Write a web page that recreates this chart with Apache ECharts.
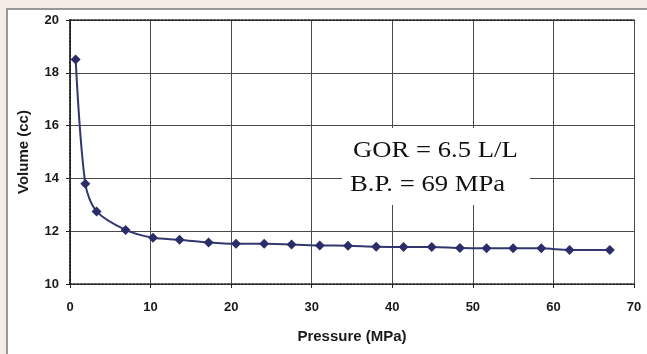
<!DOCTYPE html>
<html>
<head>
    <meta charset="utf-8">
    <title>Volume vs Pressure</title>
    <script src="https://cdn.jsdelivr.net/npm/echarts@6/dist/echarts.min.js"></script>
    <style>
        html, body { margin: 0; padding: 0; background: #f4ede7; }
    </style>
</head>
<body>
    <div id="main" style="width: 647px;height:354px;"></div>
    <script type="text/javascript">
        // pressure (MPa) and volume (cc)
        var pressure = [0.7, 1.9, 3.3, 6.9, 10.3, 13.6, 17.2, 20.6, 24.1, 27.5, 31.0, 34.5, 38.0, 41.4, 44.9, 48.4, 51.7, 55.0, 58.5, 62.0, 67.0];
        var volume = [18.5, 13.8, 12.75, 12.05, 11.75, 11.68, 11.57, 11.52, 11.52, 11.5, 11.46, 11.45, 11.41, 11.4, 11.4, 11.36, 11.35, 11.35, 11.35, 11.29, 11.29];
        var noteLines = ['GOR = 6.5 L/L', 'B.P. = 69 MPa'];

        var points = [];
        for (var i = 0; i < pressure.length; i++) {
            points.push([pressure[i], volume[i]]);
        }

        var dotted = { show: true, lineStyle: { color: '#222', width: 1.5, type: [2, 1.5] } };
        var gridLine = { show: true, lineStyle: { color: '#4a4a4a', width: 1, type: 'solid' } };
        var tickLabel = { color: '#1a1a1a', fontSize: 13, fontWeight: 'bold', fontFamily: 'Liberation Sans, Arial' };
        var noteFont = { fontSize: 23, fontFamily: 'Liberation Serif, Times New Roman', fill: '#111' };

        var myChart = echarts.init(document.getElementById('main'));
        myChart.setOption({
            animation: false,
            backgroundColor: '#f4ede7',
            grid: { left: 70, top: 20, right: 13, bottom: 70 },
            graphic: [
                {
                    type: 'rect', z: -10, silent: true,
                    shape: { x: 7, y: 9, width: 660, height: 360 },
                    style: { fill: '#ffffff', stroke: '#7a7a7a', lineWidth: 1.5 }
                },
                {
                    type: 'rect', z: 50,
                    shape: { x: 342, y: 128, width: 188, height: 77 },
                    style: { fill: '#ffffff' }
                },
                {
                    type: 'text', z: 51, x: 353, y: 139, scaleX: 1.16,
                    style: Object.assign({ text: noteLines[0] }, noteFont)
                },
                {
                    type: 'text', z: 51, x: 350, y: 173, scaleX: 1.16,
                    style: Object.assign({ text: noteLines[1] }, noteFont)
                }
            ],
            xAxis: [
                {
                    type: 'value', min: 0, max: 70, interval: 10,
                    name: 'Pressure (MPa)', nameLocation: 'middle', nameGap: 45,
                    nameTextStyle: { color: '#1a1a1a', fontSize: 15, fontWeight: 'bold', fontFamily: 'Liberation Sans, Arial' },
                    axisLine: dotted,
                    axisTick: { show: true, length: 4, lineStyle: { color: '#222' } },
                    axisLabel: Object.assign({ margin: 17 }, tickLabel),
                    splitLine: gridLine
                },
                {
                    type: 'value', min: 0, max: 70, interval: 10, position: 'top',
                    axisLine: dotted, axisTick: { show: false }, axisLabel: { show: false }, splitLine: { show: false }
                }
            ],
            yAxis: [
                {
                    type: 'value', min: 10, max: 20, interval: 2,
                    name: 'Volume (cc)', nameLocation: 'middle', nameGap: 39,
                    nameTextStyle: { color: '#1a1a1a', fontSize: 15, fontWeight: 'bold', fontFamily: 'Liberation Sans, Arial' },
                    axisLine: dotted,
                    axisTick: { show: true, length: 4, lineStyle: { color: '#222' } },
                    axisLabel: Object.assign({ margin: 11 }, tickLabel),
                    splitLine: gridLine
                },
                {
                    type: 'value', min: 10, max: 20, interval: 2, position: 'right',
                    axisLine: dotted, axisTick: { show: false }, axisLabel: { show: false }, splitLine: { show: false }
                }
            ],
            series: [
                {
                    name: 'Volume',
                    type: 'line',
                    xAxisIndex: 0,
                    yAxisIndex: 0,
                    smooth: 0.3,
                    data: points,
                    symbol: 'diamond',
                    symbolSize: 10,
                    itemStyle: { color: '#2b2d68' },
                    lineStyle: { color: '#33376f', width: 2 }
                }
            ]
        });
    </script>
</body>
</html>
